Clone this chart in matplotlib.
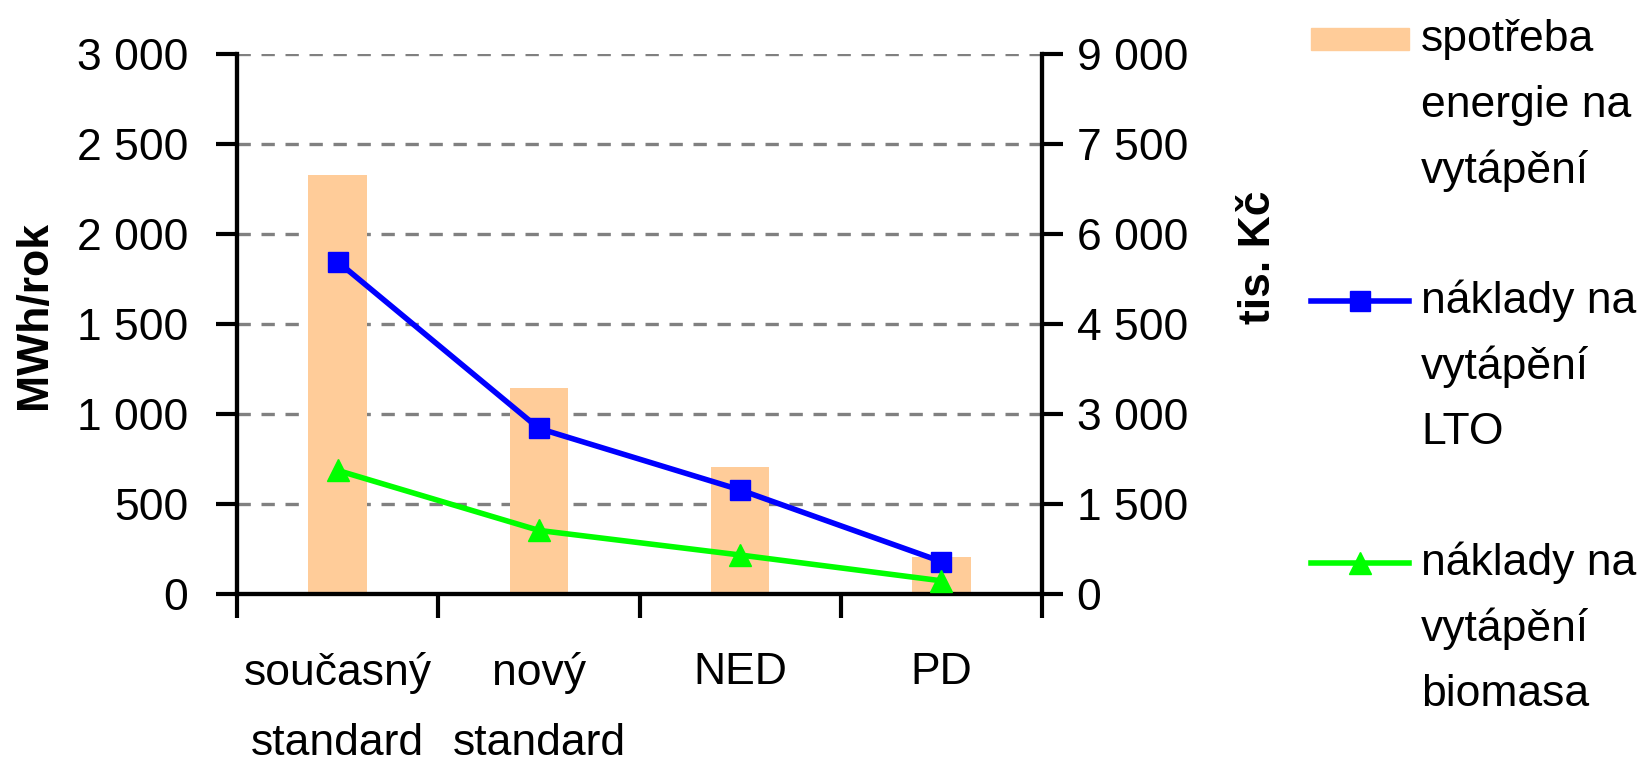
import matplotlib
matplotlib.use('Agg')
import matplotlib.pyplot as plt
from matplotlib.lines import Line2D
from matplotlib.patches import Rectangle
from matplotlib.ticker import FuncFormatter, FixedLocator

plt.rcParams['font.family'] = ['Liberation Sans', 'DejaVu Sans']

# data
kategorie = ['současný\nstandard', 'nový\nstandard', 'NED', 'PD']
spotreba = [2330, 1145, 705, 205]          # MWh/rok, left axis
naklady_lto = [5540, 2760, 1735, 540]      # tis. Kč, right axis
naklady_biomasa = [2060, 1060, 650, 220]   # tis. Kč, right axis

legend_labels = ['spotřeba\nenergie na\nvytápění',
                 'náklady na\nvytápění\nLTO',
                 'náklady na\nvytápění\nbiomasa']

FS = 32
BAR_COLOR = '#FFCC99'
BLUE = '#0000FF'
GREEN = '#00FF00'
W, H = 1645, 764


def space_thousands(v, pos):
    return f'{int(v):,}'.replace(',', ' ')


def fx(px):
    return px / W


def fy(py):
    return 1 - py / H


fig = plt.figure(figsize=(W / 100, H / 100), dpi=100)
ax = fig.add_axes([fx(237), fy(594), fx(1042) - fx(237), fy(54) - fy(594)])
ax2 = ax.twinx()

x = list(range(len(kategorie)))
ax.bar(x, spotreba, width=0.29, color=BAR_COLOR, zorder=2)
ax2.plot(x, naklady_lto, color=BLUE, lw=4, marker='s', ms=15, clip_on=False, zorder=3)
ax2.plot(x, naklady_biomasa, color=GREEN, lw=4, marker='^', ms=16, clip_on=False, zorder=3)

ax.set_xlim(-0.5, 3.5)
ax.set_ylim(0, 3000)
ax2.set_ylim(0, 9000)
ax.set_yticks(range(0, 3001, 500))
ax2.set_yticks(range(0, 9001, 1500))
ax.yaxis.set_major_formatter(FuncFormatter(space_thousands))
ax2.yaxis.set_major_formatter(FuncFormatter(space_thousands))

ax.set_xticks(x)
ax.set_xticklabels(kategorie)
ax.xaxis.set_minor_locator(FixedLocator([-0.5, 0.5, 1.5, 2.5, 3.5]))
ax.tick_params(axis='x', which='major', length=0, pad=42, labelsize=FS)
ax.tick_params(axis='x', which='minor', length=17, width=3, direction='out')
for lab in ax.get_xticklabels():
    lab.set_linespacing(1.9)

ax.tick_params(axis='y', length=15, width=3, pad=20, labelsize=FS)
ax2.tick_params(axis='y', length=15, width=3, pad=10, labelsize=FS)

ax.grid(axis='y', color='#808080', lw=2.4, ls=(0, (4, 3.2)))
ax.set_axisbelow(True)

for a in (ax, ax2):
    a.spines['top'].set_visible(False)
    for s in ('left', 'right', 'bottom'):
        a.spines[s].set_linewidth(3)
ax2.patch.set_visible(False)

fig.text(fx(35), fy(315), 'MWh/rok', rotation=90, ha='center', va='center',
         fontsize=FS, fontweight='bold')
fig.text(fx(1259), fy(257), 'tis. Kč', rotation=90, ha='center', va='center',
         fontsize=FS, fontweight='bold')

# legend, drawn by hand so the key sits beside the first line of each label
entry_tops = [39, 301, 563]
line_step = 66
hx0, hx1, tx = 1311, 1409, 1421
for i, (label, top) in enumerate(zip(legend_labels, entry_tops)):
    if i == 0:
        fig.add_artist(Rectangle((fx(hx0), fy(top + 11)), fx(hx1) - fx(hx0), 22 / H,
                                 transform=fig.transFigure, color=BAR_COLOR))
    else:
        color = BLUE if i == 1 else GREEN
        marker = 's' if i == 1 else '^'
        fig.add_artist(Line2D([fx(hx0), fx(hx1)], [fy(top), fy(top)],
                              transform=fig.transFigure, color=color, lw=4))
        fig.add_artist(Line2D([fx((hx0 + hx1) / 2)], [fy(top)], transform=fig.transFigure,
                              color=color, marker=marker, ms=15 if i == 1 else 16, lw=0))
    for j, line in enumerate(label.split('\n')):
        fig.text(fx(tx), fy(top + j * line_step), line, ha='left', va='center', fontsize=FS)

fig.savefig('out.png', dpi=100)
